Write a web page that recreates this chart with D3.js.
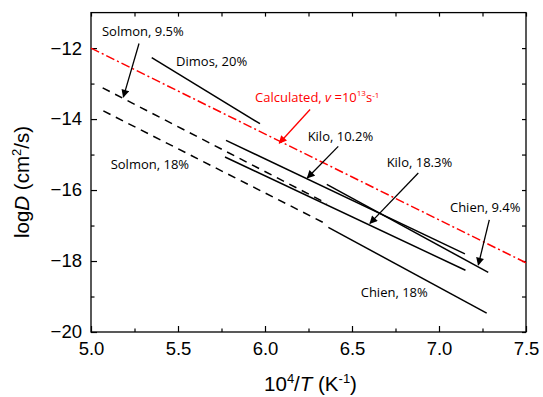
<!DOCTYPE html>
<html>
<head>
<meta charset="utf-8">
<script src="https://cdn.jsdelivr.net/npm/d3@7"></script>
<style>
  body { margin: 0; background: #fff; }
  svg { display: block; }
  .tick text { font-family: "Liberation Sans", Arial, sans-serif; font-size: 18.5px; fill: #000; }
  .note { font-family: "Open Sans", sans-serif; font-size: 13px; }
</style>
</head>
<body>
<svg id="chart" width="543" height="397"></svg>
<script>
// line segments, 10^4/T (K^-1) vs logD (cm2/s)
var seriesNames = ['Dimos, 20%', 'Solmon, 9.5%', 'Solmon, 18%', 'Kilo, 10.2%', 'Kilo, 18.3%', 'Chien, 9.4%', 'Chien, 18%', 'Calculated'];
var seriesX = [[5.349, 5.971], [5.067, 6.356], [5.071, 6.345], [5.776, 7.149], [5.770, 7.152], [6.355, 7.283], [6.364, 7.274], [5.0, 7.5]];
var seriesY = [[-12.27, -14.13], [-13.12, -16.38], [-13.77, -16.94], [-14.60, -17.80], [-15.07, -18.26], [-15.84, -18.32], [-17.05, -19.47], [-12.0, -18.05]];

var xMajor = [5.0, 5.5, 6.0, 6.5, 7.0, 7.5];
var xMinor = [5.25, 5.75, 6.25, 6.75, 7.25];
var yMajor = [-12, -14, -16, -18, -20];
var yMinor = [-13, -15, -17, -19];

// annotation text anchors and arrows (data coords)
var noteText = ['Solmon, 9.5%', 'Dimos, 20%', 'Kilo, 10.2%', 'Kilo, 18.3%', 'Chien, 9.4%', 'Chien, 18%', 'Solmon, 18%'];
var noteAt = [[5.063, -11.52], [5.489, -12.39], [6.245, -14.49], [6.699, -15.21], [7.063, -16.50], [6.55, -18.88], [5.113, -15.29]];
var arrowFrom = [[5.276, -11.87], [6.421, -14.77], [6.881, -15.52], [7.289, -16.84]];
var arrowTo = [[5.186, -13.38], [6.243, -15.66], [6.603, -16.94], [7.226, -18.11]];
var calcAt = [5.943, -13.38];
var calcArrow = [[6.259, -13.73], [6.082, -14.68]];

var margin = {left: 91, right: 17, top: 12.6, bottom: 65};
var svg = d3.select('#chart');
var W = 543, H = 397;
var x = d3.scaleLinear().domain([5, 7.5]).range([margin.left, W - margin.right]);
var y = d3.scaleLinear().domain([-20, -11]).range([H - margin.bottom, margin.top]);

var defs = svg.append('defs');
['black', 'red'].forEach(function(c) {
  defs.append('marker').attr('id', 'head-' + c)
    .attr('viewBox', '0 0 10 10').attr('refX', 9).attr('refY', 5)
    .attr('markerWidth', 9).attr('markerHeight', 8).attr('markerUnits', 'userSpaceOnUse')
    .attr('orient', 'auto')
    .append('path').attr('d', 'M0,0 L10,5 L0,10 z').attr('fill', c === 'red' ? '#ff0000' : '#000');
});

// axes: ticks pointing inwards on all four sides
function styleAxis(g) {
  g.select('.domain').remove();
  g.selectAll('.tick line').attr('stroke', '#000').attr('stroke-width', 1.2);
}
svg.append('g').attr('transform', 'translate(0,' + y(-20) + ')')
  .call(d3.axisBottom(x).tickValues(xMajor).tickSizeInner(-6).tickPadding(10).tickFormat(d3.format('.1f')))
  .call(styleAxis);
svg.append('g').attr('transform', 'translate(0,' + y(-20) + ')')
  .call(d3.axisBottom(x).tickValues(xMinor).tickSizeInner(-3.5).tickFormat(''))
  .call(styleAxis);
svg.append('g').attr('transform', 'translate(0,' + y(-11) + ')')
  .call(d3.axisTop(x).tickValues(xMajor.concat(xMinor)).tickSizeInner(-4).tickFormat(''))
  .call(styleAxis);
svg.append('g').attr('transform', 'translate(' + x(5) + ',0)')
  .call(d3.axisLeft(y).tickValues(yMajor).tickSizeInner(-6).tickPadding(9).tickFormat(d3.format('d')))
  .call(styleAxis);
svg.append('g').attr('transform', 'translate(' + x(5) + ',0)')
  .call(d3.axisLeft(y).tickValues(yMinor).tickSizeInner(-3.5).tickFormat(''))
  .call(styleAxis);
svg.append('g').attr('transform', 'translate(' + x(7.5) + ',0)')
  .call(d3.axisRight(y).tickValues(yMajor.concat(yMinor)).tickSizeInner(-4).tickFormat(''))
  .call(styleAxis);
svg.selectAll('.tick text').attr('fill', '#000').attr('font-size', null).attr('font-family', null);

// frame
svg.append('rect').attr('x', x(5)).attr('y', y(-11))
  .attr('width', x(7.5) - x(5)).attr('height', y(-20) - y(-11))
  .attr('fill', 'none').attr('stroke', '#000').attr('stroke-width', 1.3);

// lines
var dashFor = function(name) {
  if (name === 'Calculated') return '9,3,2,3';
  if (name.indexOf('Solmon') === 0) return '8,6';
  return null;
};
seriesNames.forEach(function(name, i) {
  svg.append('line')
    .attr('x1', x(seriesX[i][0])).attr('y1', y(seriesY[i][0]))
    .attr('x2', x(seriesX[i][1])).attr('y2', y(seriesY[i][1]))
    .attr('stroke', name === 'Calculated' ? '#ff0000' : '#000')
    .attr('stroke-width', 1.5)
    .attr('stroke-dasharray', dashFor(name));
});

// arrows
arrowFrom.forEach(function(p, i) {
  svg.append('line')
    .attr('x1', x(p[0])).attr('y1', y(p[1]))
    .attr('x2', x(arrowTo[i][0])).attr('y2', y(arrowTo[i][1]))
    .attr('stroke', '#000').attr('stroke-width', 1.3)
    .attr('marker-end', 'url(#head-black)');
});
svg.append('line')
  .attr('x1', x(calcArrow[0][0])).attr('y1', y(calcArrow[0][1]))
  .attr('x2', x(calcArrow[1][0])).attr('y2', y(calcArrow[1][1]))
  .attr('stroke', '#ff0000').attr('stroke-width', 1.3)
  .attr('marker-end', 'url(#head-red)');

// notes
noteText.forEach(function(t, i) {
  svg.append('text').attr('class', 'note')
    .attr('x', x(noteAt[i][0])).attr('y', y(noteAt[i][1]))
    .attr('dy', '0.35em').attr('fill', '#000').text(t);
});
var calc = svg.append('text').attr('class', 'note')
  .attr('x', x(calcAt[0])).attr('y', y(calcAt[1])).attr('dy', '0.35em').attr('fill', '#ff0000');
calc.append('tspan').text('Calculated, ');
calc.append('tspan').attr('font-style', 'italic').text('v');
calc.append('tspan').text(' =10');
calc.append('tspan').attr('font-size', '8px').attr('dy', '-0.75em').text('13');
calc.append('tspan').attr('dy', '0.52em').text('s');
calc.append('tspan').attr('font-size', '8px').attr('dy', '-0.52em').text('-1');

// axis titles
var xt = svg.append('text')
  .attr('x', (x(5) + x(7.5)) / 2 + 2).attr('y', 391)
  .attr('text-anchor', 'middle')
  .attr('font-family', '"Liberation Sans", Arial, sans-serif').attr('font-size', '20.5px');
xt.append('tspan').text('10');
xt.append('tspan').attr('font-size', '13px').attr('dy', '-0.65em').text('4');
xt.append('tspan').attr('dy', '0.42em').text('/');
xt.append('tspan').attr('font-style', 'italic').text('T');
xt.append('tspan').text(' (K');
xt.append('tspan').attr('font-size', '13px').attr('dy', '-0.65em').text('-1');
xt.append('tspan').attr('dy', '0.42em').text(')');

var yt = svg.append('text')
  .attr('transform', 'translate(29,182) rotate(-90)')
  .attr('text-anchor', 'middle')
  .attr('font-family', '"Liberation Sans", Arial, sans-serif').attr('font-size', '20.5px');
yt.append('tspan').text('log');
yt.append('tspan').attr('font-style', 'italic').text('D');
yt.append('tspan').text(' (cm');
yt.append('tspan').attr('font-size', '13px').attr('dy', '-0.65em').text('2');
yt.append('tspan').attr('dy', '0.42em').text('/s)');
</script>
</body>
</html>
